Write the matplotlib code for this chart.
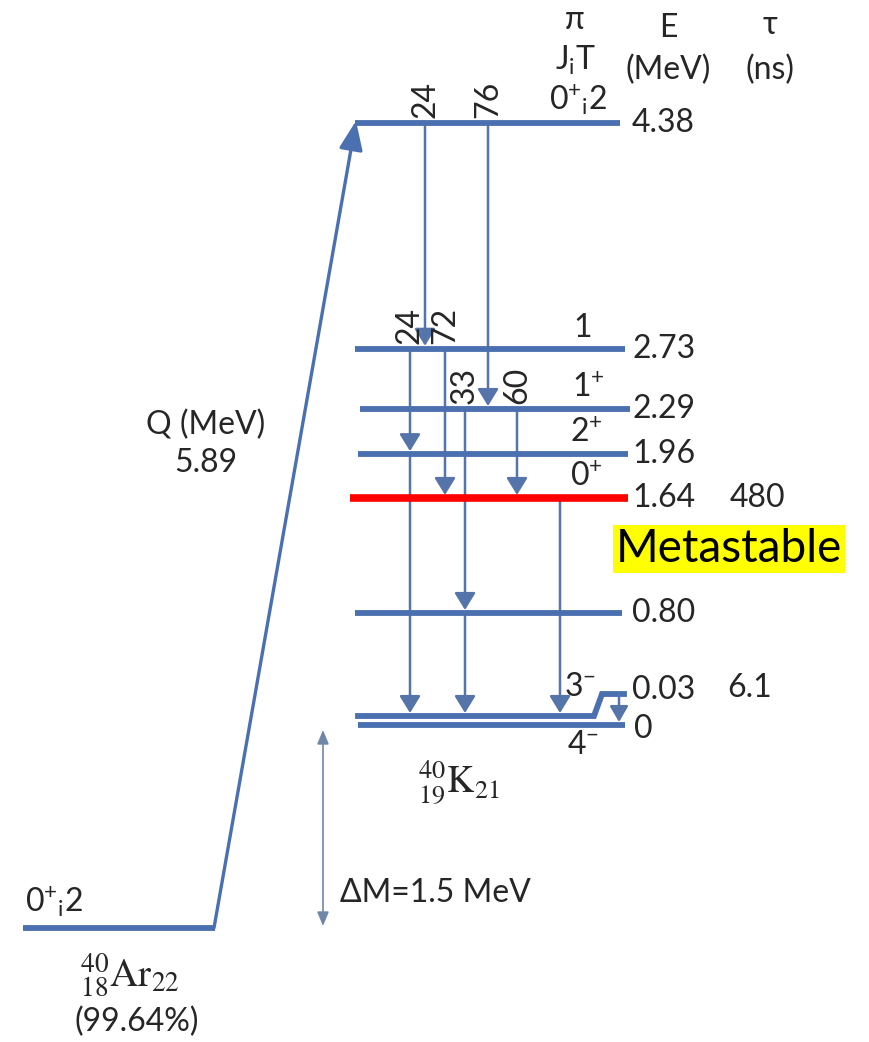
"""
plot.py - 40K level scheme fed by 40Ar (charge-exchange), with the metastable 0+ state marked.
"""
import matplotlib
matplotlib.use("Agg")
import matplotlib.pyplot as plt

# ---------------------------------------------------------------------------
# Data
# ---------------------------------------------------------------------------
level_energy = [4.38, 2.73, 2.29, 1.96, 1.64, 0.80]          # MeV
level_jpi = ["0$^{+}$$_{\\mathregular{i}}$2", "1", "1$^{+}$", "2$^{+}$", "0$^{+}$", ""]
level_label = ["4.38", "2.73", "2.29", "1.96", "1.64", "0.80"]
level_x0 = [355, 355, 360, 358, 350, 355]
level_x1 = [620, 625, 630, 628, 628, 622]
metastable_energy = 1.64
metastable_tau = "480"

ground_energy = [0.03, 0.0]        # 3- and 4- doublet
ground_jpi = ["3$^{\\mathregular{-}}$", "4$^{\\mathregular{-}}$"]
ground_label = ["0.03", "0"]
ground_tau = "6.1"

ar_energy = -1.5                   # Delta M = 1.5 MeV below 40K ground
q_value = "5.89"

# gamma transitions: start level, end level, branching label (empty = none)
trans_from = [4.38, 4.38, 2.73, 2.73, 1.96, 2.29, 2.29, 0.80, 1.64]
trans_to = [2.73, 2.29, 1.96, 1.64, 0.03, 0.80, 1.64, 0.03, 0.03]
trans_branch = ["24", "76", "24", "72", "", "33", "60", "", ""]
trans_x = [425, 488, 410, 445, 410, 465, 517, 465, 560]

# ---------------------------------------------------------------------------
# Layout helpers (figure is 869 x 1042 px; y axis in MeV)
# ---------------------------------------------------------------------------
W, H = 869, 1042
Y0_PX = 722.5          # pixel row of E = 0
PX_PER_MEV = 136.9


def py(ypx):
    """pixel row -> energy coordinate"""
    return (Y0_PX - ypx) / PX_PER_MEV


def dpx(n):
    """n pixels as an energy offset"""
    return n / PX_PER_MEV


LEVEL_C = "#4a70b0"
ARROW_C = "#5574aa"
FONT = ["Lato", "DejaVu Sans"]
plt.rcParams["font.family"] = FONT
plt.rcParams["mathtext.fontset"] = "custom"
plt.rcParams["mathtext.rm"] = "Lato"
plt.rcParams["mathtext.it"] = "Lato"

fig = plt.figure(figsize=(W / 100, H / 100), dpi=100)
ax = fig.add_axes([0, 0, 1, 1])
ax.set_xlim(0, W)
ax.set_ylim(py(H), py(0))
ax.axis("off")

TXT = "#262626"
FS = 23

# K levels
for e, jpi, lab, x0, x1 in zip(level_energy, level_jpi, level_label, level_x0, level_x1):
    red = e == metastable_energy
    ax.plot([x0, x1], [e, e], color="#ff0000" if red else LEVEL_C,
            lw=5.5 if red else 4.2, solid_capstyle="butt", zorder=3)
    ax.text(632, e, lab, fontsize=FS, color=TXT, ha="left", va="center")
    if jpi:
        ax.text(x1 - 42, e + dpx(6), jpi, fontsize=FS, color=TXT,
                ha="center", va="bottom")

ax.text(730, metastable_energy, metastable_tau, fontsize=FS, color=TXT, ha="left", va="center")
ax.text(616, py(549), "Metastable", fontsize=33, color="black", ha="left", va="center",
        bbox=dict(boxstyle="square,pad=0.06", fc="#ffff00", ec="none"))

# ground doublet: 3- drawn slightly above 4-, with a raised tab for its label
e3, e4 = ground_energy
y3 = py(716)
y4 = py(725)
ystep = py(694)
ax.plot([358, 594, 602, 624], [y3, y3, ystep, ystep], color=LEVEL_C, lw=4.2,
        solid_joinstyle="miter", zorder=3)
ax.plot([358, 625], [y4, y4], color=LEVEL_C, lw=4.2, solid_capstyle="butt", zorder=3)
ax.annotate("", xy=(619, py(722)), xytext=(619, ystep),
            arrowprops=dict(arrowstyle="-|>,head_width=0.35,head_length=0.6", lw=1.8,
                            color=ARROW_C, shrinkA=0, shrinkB=0, mutation_scale=16), zorder=4)
ax.text(632, py(690), ground_label[0], fontsize=FS, color=TXT, ha="left", va="center")
ax.text(634, py(729), ground_label[1], fontsize=FS, color=TXT, ha="left", va="center")
ax.text(727, py(688), ground_tau, fontsize=FS, color=TXT, ha="left", va="center")
ax.text(580, py(702), ground_jpi[0], fontsize=FS, color=TXT, ha="center", va="bottom")
ax.text(583, py(730), ground_jpi[1], fontsize=FS, color=TXT, ha="center", va="top")

# gamma transitions
for e0, e1, br, x in zip(trans_from, trans_to, trans_branch, trans_x):
    end = y3 + dpx(3) if e1 == 0.03 else e1 + dpx(3)
    ax.annotate("", xy=(x, end), xytext=(x, e0),
                arrowprops=dict(arrowstyle="-|>,head_width=0.4,head_length=0.65", lw=1.8,
                                color=ARROW_C, shrinkA=0, shrinkB=0, mutation_scale=16),
                zorder=2)
    if br:
        ax.text(x, e0 + dpx(5), br, fontsize=FS, color=TXT, rotation=90,
                ha="center", va="bottom")

# 40Ar ground state and Q-value arrow
ax.plot([23, 215], [ar_energy, ar_energy], color=LEVEL_C, lw=4.2,
        solid_capstyle="butt", zorder=3)
ax.annotate("", xy=(356, level_energy[0] + dpx(2)), xytext=(214, ar_energy),
            arrowprops=dict(arrowstyle="-|>,head_width=0.45,head_length=1.1", lw=2.4,
                            color=LEVEL_C, shrinkA=0, shrinkB=0, mutation_scale=16),
            zorder=3)
ax.text(25, py(919), "0$^{+}$$_{\\mathregular{i}}$2", fontsize=FS, color=TXT,
        ha="left", va="bottom")
ax.text(206, py(425), "Q (MeV)", fontsize=FS, color=TXT, ha="center", va="center")
ax.text(206, py(463), q_value, fontsize=FS, color=TXT, ha="center", va="center")

# Delta M
ax.annotate("", xy=(323, py(730)), xytext=(323, py(926)),
            arrowprops=dict(arrowstyle="<|-|>,head_width=0.25,head_length=0.6", lw=1.2,
                            color="#6f86a8", shrinkA=0, shrinkB=0, mutation_scale=14))
ax.text(340, py(893), "\u0394M=1.5 MeV", fontsize=FS, color=TXT, ha="left", va="center")

# nuclide labels (serif, like the original)
ax.text(418, py(783), r"$^{40}_{19}\mathrm{K}_{21}$", fontsize=27, color=TXT,
        ha="left", va="center", math_fontfamily="stix")
ax.text(80, py(975), r"$^{40}_{18}\mathrm{Ar}_{22}$", fontsize=28, color=TXT,
        ha="left", va="center", math_fontfamily="stix")
ax.text(137, py(1022), "(99.64%)", fontsize=FS, color=TXT, ha="center", va="center")

# column headers
ax.text(575, py(20), "\u03c0", fontsize=FS, color=TXT, ha="center", va="center")
ax.text(575, py(60), "J$_{\\mathregular{i}}$T", fontsize=FS, color=TXT, ha="center", va="center")
ax.text(668, py(28), "E", fontsize=FS, color=TXT, ha="center", va="center")
ax.text(668, py(70), "(MeV)", fontsize=FS, color=TXT, ha="center", va="center")
ax.text(770, py(25), "\u03c4", fontsize=FS, color=TXT, ha="center", va="center")
ax.text(770, py(70), "(ns)", fontsize=FS, color=TXT, ha="center", va="center")

fig.savefig("out.png", dpi=100, facecolor="white")
